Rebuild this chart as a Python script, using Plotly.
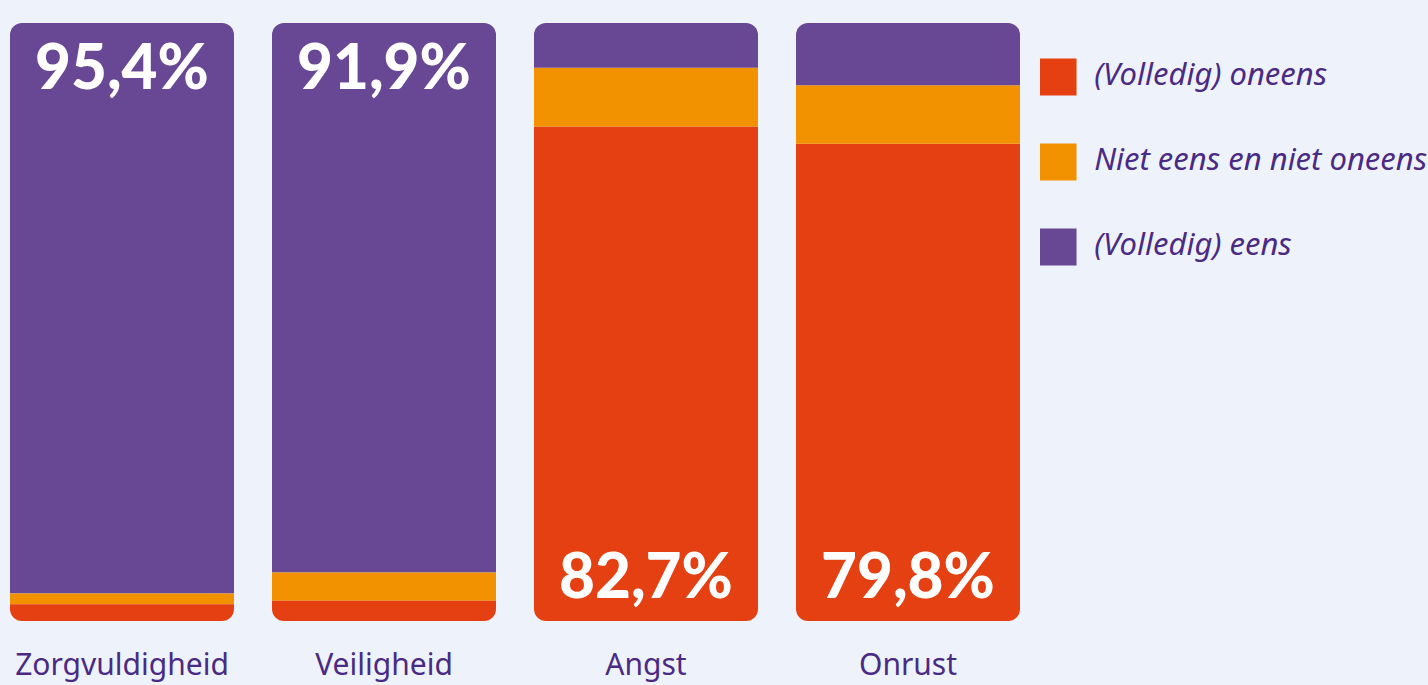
import plotly.graph_objects as go

# ---- data ----
categories = ["Zorgvuldigheid", "Veiligheid", "Angst", "Onrust"]
oneens = [2.8, 3.4, 82.7, 79.8]      # (Volledig) oneens
neutraal = [1.8, 4.7, 9.8, 9.8]      # Niet eens en niet oneens
eens = [95.4, 91.9, 7.5, 10.4]       # (Volledig) eens
series_names = ["(Volledig) oneens", "Niet eens en niet oneens", "(Volledig) eens"]
colors = ["#e44012", "#f39200", "#684794"]

BG = "#eef3fb"
TXT = "#4b2a84"
W, H = 1428, 685
PLOT_RIGHT = 1040
SPLIT = 50  # stacks are split around this value so both outer ends get rounded

series = [oneens, neutraal, eens]
starts = []
acc = [0.0] * len(categories)
for s in series:
    starts.append(list(acc))
    acc = [a + v for a, v in zip(acc, s)]

def up_part(a, b):
    v = max(0.0, b - max(a, SPLIT))
    return v if v > 0 else None

def down_part(a, b):
    v = max(0.0, min(b, SPLIT) - a)
    return -v if v > 0 else None

fig = go.Figure()
# upper half, stacked upwards: red, orange, purple
for k in range(3):
    fig.add_trace(go.Bar(
        x=categories,
        y=[up_part(a, a + v) for a, v in zip(starts[k], series[k])],
        marker=dict(color=colors[k], cornerradius=12, line_width=0),
        showlegend=False, hoverinfo="skip"))
# lower half, stacked downwards: purple, orange, red
for k in [2, 1, 0]:
    fig.add_trace(go.Bar(
        x=categories,
        y=[down_part(a, a + v) for a, v in zip(starts[k], series[k])],
        marker=dict(color=colors[k], cornerradius=12, line_width=0),
        showlegend=False, hoverinfo="skip"))

def fmt(v):
    return f"{v:.1f}".replace(".", ",") + "%"

annotations = []
for i, c in enumerate(categories):
    if eens[i] >= oneens[i]:
        annotations.append(dict(x=c, y=acc[i] - SPLIT, xref="x", yref="y",
                                text=fmt(eens[i]), showarrow=False, yanchor="top",
                                yshift=-3))
    else:
        annotations.append(dict(x=c, y=-SPLIT, xref="x", yref="y",
                                text=fmt(oneens[i]), showarrow=False, yanchor="bottom",
                                yshift=8))
for a in annotations:
    a["font"] = dict(family="Lato", size=62, color="white", weight=900)

# legend drawn as a small scatter panel
leg_pos = [0, 1, 2]
fig.add_trace(go.Scatter(
    x=[0] * 3, y=leg_pos, mode="markers", xaxis="x2", yaxis="y2",
    marker=dict(symbol="square", size=37, color=colors, line=dict(width=0)),
    showlegend=False, hoverinfo="skip"))
fig.add_trace(go.Scatter(
    x=[2] * 3, y=leg_pos, mode="text", xaxis="x2", yaxis="y2",
    text=series_names, textposition="middle right",
    textfont=dict(family="Noto Sans", size=31, color=TXT, style="italic"),
    showlegend=False, hoverinfo="skip"))

bar_step = 262
first_center = 122
fig.update_layout(
    width=W, height=H,
    margin=dict(l=0, r=0, t=23, b=64, autoexpand=False),
    paper_bgcolor=BG, plot_bgcolor=BG,
    barmode="relative", bargap=1 - 224 / bar_step,
    annotations=annotations,
    xaxis=dict(domain=[0, PLOT_RIGHT / W],
               range=[-first_center / bar_step, (PLOT_RIGHT - first_center) / bar_step],
               showgrid=False, zeroline=False, showline=False, ticks="",
               tickfont=dict(family="Noto Sans", size=30, color=TXT),
               ticklabelstandoff=23, automargin=False),
    yaxis=dict(range=[-SPLIT, 100 - SPLIT], showgrid=False, zeroline=False,
               showline=False, showticklabels=False, automargin=False),
    xaxis2=dict(domain=[PLOT_RIGHT / W, 1], range=[-1, 20.5], anchor="y2",
                visible=False),
    yaxis2=dict(domain=[0, 1], range=[(598 - 54) / 85, -54 / 85], anchor="x2",
                visible=False),
    showlegend=False,
)

fig.write_html("out.html")
